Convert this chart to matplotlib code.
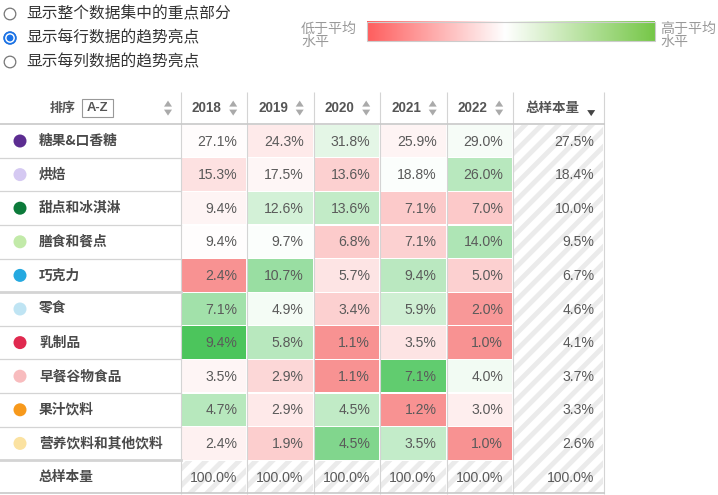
import matplotlib
matplotlib.use('Agg')
import matplotlib.pyplot as plt
import numpy as np
from matplotlib.patches import Rectangle, Circle, Polygon
from matplotlib.colors import LinearSegmentedColormap, TwoSlopeNorm

plt.rcParams['font.family'] = ['Noto Sans CJK SC', 'DejaVu Sans']
plt.rcParams['hatch.linewidth'] = 3.5

categories = ['糖果&口香糖', '烘焙', '甜点和冰淇淋', '膳食和餐点', '巧克力',
              '零食', '乳制品', '早餐谷物食品', '果汁饮料', '营养饮料和其他饮料']
years = ['2018', '2019', '2020', '2021', '2022']
v2018 = [27.1, 15.3, 9.4, 9.4, 2.4, 7.1, 9.4, 3.5, 4.7, 2.4]
v2019 = [24.3, 17.5, 12.6, 9.7, 10.7, 4.9, 5.8, 2.9, 2.9, 1.9]
v2020 = [31.8, 13.6, 13.6, 6.8, 5.7, 3.4, 1.1, 1.1, 4.5, 4.5]
v2021 = [25.9, 18.8, 7.1, 7.1, 9.4, 5.9, 3.5, 7.1, 1.2, 3.5]
v2022 = [29.0, 26.0, 7.0, 14.0, 5.0, 2.0, 1.0, 4.0, 3.0, 1.0]
total = [27.5, 18.4, 10.0, 9.5, 6.7, 4.6, 4.1, 3.7, 3.3, 2.6]
col_totals = [100.0, 100.0, 100.0, 100.0, 100.0, 100.0]
dot_colors = ['#5c2d91', '#d5c9f2', '#0c7a3a', '#c2eaa9', '#25a9e0',
              '#bfe4f3', '#e0294f', '#f8bcbe', '#f7991c', '#fbe2a1']
radio_labels = ['显示整个数据集中的重点部分', '显示每行数据的趋势亮点', '显示每列数据的趋势亮点']

values = np.array([v2018, v2019, v2020, v2021, v2022]).T
tot = np.array(total)

# layout in pixels
W, H = 718, 495
label_w = 180.7
col_w = 66.5
tot_w = 91
head_top, head_bot = 92, 124.2
row_h = 33.6

cell_cmap = LinearSegmentedColormap.from_list('cells', ['#f89292', '#ffffff', '#4cc55c'])
cell_norm = TwoSlopeNorm(vmin=-0.6, vcenter=0, vmax=1.05)
leg_cmap = LinearSegmentedColormap.from_list('leg', [(0, '#fe5e5e'), (0.48, '#ffffff'), (1, '#76c748')])

fig = plt.figure(figsize=(W / 100, H / 100), dpi=100)
ax = fig.add_axes([0, 0, 1, 1])
ax.set_xlim(0, W)
ax.set_ylim(H, 0)
ax.axis('off')

px = 0.72  # px -> pt
grid = '#d4d4d4'
txt = '#555555'

# radio buttons
for i, lab in enumerate(radio_labels):
    y = 14 + i * 24
    ax.add_patch(Circle((10, y), 5.8, facecolor='white', edgecolor='#767676', lw=0.9))
    if i == 1:
        ax.add_patch(Circle((10, y), 5.8, facecolor='white', edgecolor='#1a73e8', lw=1.3))
        ax.add_patch(Circle((10, y), 3.4, facecolor='#1a73e8', edgecolor='none'))
    ax.text(26, y, lab, fontsize=15.7 * px, color='#333333', va='center', ha='left')

# legend gradient
grad = np.linspace(0, 1, 256).reshape(1, -1)
ax.imshow(grad, cmap=leg_cmap, extent=(367, 655, 41, 21.5), aspect='auto')
ax.add_patch(Rectangle((367, 21.5), 288, 19.5, facecolor='none', edgecolor='#cccccc', lw=0.8))
for x0, lab in [(301, '低于平均'), (660, '高于平均')]:
    ax.text(x0, 29, lab, fontsize=14 * px, color='#999999', va='center', ha='left')
    ax.text(x0, 42, '水平', fontsize=14 * px, color='#999999', va='center', ha='left')


def sort_arrows(x, y, c='#aaaaaa'):
    ax.add_patch(Polygon([[x - 4, y - 1.5], [x + 4, y - 1.5], [x, y - 7.5]], closed=True, facecolor=c, edgecolor='none'))
    ax.add_patch(Polygon([[x - 4, y + 1.5], [x + 4, y + 1.5], [x, y + 7.5]], closed=True, facecolor=c, edgecolor='none'))


col_left = [label_w + j * col_w for j in range(len(years))]
tot_left = label_w + len(years) * col_w
table_right = tot_left + tot_w
n = len(categories)
body_bot = head_bot + (n + 1) * row_h
head_mid = (head_top + head_bot) / 2

# header
ax.text(63, head_mid, '排序', fontsize=13 * px, color=txt, weight='bold', ha='center', va='center')
ax.add_patch(Rectangle((82, 99), 31, 18, facecolor='white', edgecolor='#999999', lw=0.8))
ax.text(97.5, head_mid, 'A-Z', fontsize=13 * px, color=txt, weight='bold', ha='center', va='center',
        family='Liberation Sans')
sort_arrows(168, head_mid)
for j, yr in enumerate(years):
    ax.text(col_left[j] + 26, head_mid, yr, fontsize=13.5 * px, color=txt, weight='bold',
            ha='center', va='center', family='Liberation Sans')
    sort_arrows(col_left[j] + col_w - 14, head_mid)
ax.text(tot_left + 39, head_mid, '总样本量', fontsize=13.5 * px, color=txt, weight='bold', ha='center', va='center')
ax.add_patch(Polygon([[tot_left + 74, head_mid + 2], [tot_left + 82, head_mid + 2], [tot_left + 78, head_mid + 8]],
                     closed=True, facecolor='#444444', edgecolor='none'))

# body cells
for i, cat in enumerate(categories):
    y0 = head_bot + i * row_h
    ym = y0 + row_h / 2
    ax.add_patch(Circle((20, ym), 6.5, facecolor=dot_colors[i], edgecolor='none'))
    ax.text(39, ym, cat, fontsize=13.7 * px, color='#4a4a4a', weight='bold', ha='left', va='center')
    for j in range(len(years)):
        rel = (values[i, j] - tot[i]) / tot[i]
        fc = cell_cmap(cell_norm(np.clip(rel, -0.6, 1.05)))
        ax.add_patch(Rectangle((col_left[j] + 1, y0 + 0.6), col_w - 2, row_h - 1.2, facecolor=fc, edgecolor='none'))
        ax.text(col_left[j] + col_w - 10, ym + 0.5, f'{values[i, j]:.1f}%', fontsize=14 * px, color='#5a5a5a',
                ha='right', va='center', family='Liberation Sans')

# hatched total column and total row
ax.add_patch(Rectangle((tot_left + 1, head_bot + 0.6), tot_w - 2, (n + 1) * row_h - 1.2, facecolor='white',
                       edgecolor='#ebebeb', lw=0, hatch='//'))
for j in range(len(years)):
    ax.add_patch(Rectangle((col_left[j] + 1, head_bot + n * row_h + 0.6), col_w - 2, row_h - 1.2,
                           facecolor='white', edgecolor='#ebebeb', lw=0, hatch='//'))
for i in range(n):
    ym = head_bot + i * row_h + row_h / 2
    ax.text(tot_left + tot_w - 10, ym + 0.5, f'{tot[i]:.1f}%', fontsize=14 * px, color='#5a5a5a',
            ha='right', va='center', family='Liberation Sans')
ym = head_bot + n * row_h + row_h / 2
ax.text(39, ym, '总样本量', fontsize=13.7 * px, color='#4a4a4a', weight='bold', ha='left', va='center')
for j, v in enumerate(col_totals):
    right = (col_left[j] + col_w) if j < len(years) else table_right
    ax.text(right - 10, ym + 0.5, f'{v:.1f}%', fontsize=14 * px, color='#5a5a5a',
            ha='right', va='center', family='Liberation Sans')

# grid lines
for x in [label_w] + [c + col_w for c in col_left] + [table_right]:
    ax.plot([x, x], [head_top, body_bot], color=grid, lw=0.8, solid_capstyle='butt')
ax.plot([0, table_right], [head_bot, head_bot], color='#c8c8c8', lw=1.2)
for i in range(1, n + 1):
    y = head_bot + i * row_h
    thick = i in (5, n)
    ax.plot([0, label_w], [y, y], color=grid, lw=2.0 if thick else 0.9)
ax.plot([0, table_right], [body_bot - 0.5, body_bot - 0.5], color='#c8c8c8', lw=1.2)

fig.savefig('out.png', dpi=100)
